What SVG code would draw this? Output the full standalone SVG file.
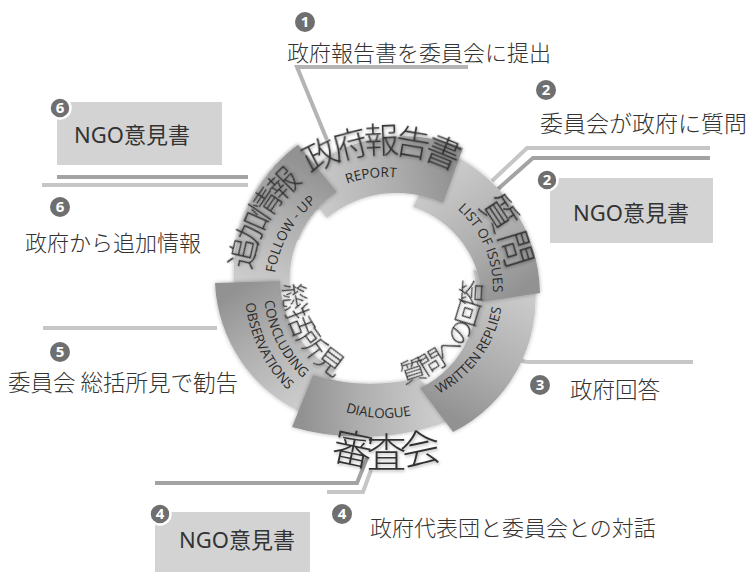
<svg xmlns="http://www.w3.org/2000/svg" xmlns:xlink="http://www.w3.org/1999/xlink" width="747" height="572" viewBox="0 0 747 572">
<style>
.jp{font-family:'Noto Sans CJK JP',sans-serif;fill:#333;font-weight:300}
.ngo{font-family:'Noto Sans','Noto Sans CJK JP',sans-serif;fill:#333;font-size:22px;text-anchor:middle}
.en{font-family:'Open Sans',sans-serif;font-size:13.5px;fill:#2a2a2a}
.big{font-family:'Noto Sans CJK JP',sans-serif;fill:#333;font-weight:300;filter:url(#sh)}
.num circle{fill:#6f6f6f}
.num .o{stroke:#fff;stroke-width:2.5}
.num text{font-family:'Open Sans',sans-serif;font-weight:bold;font-size:15px;fill:#fff;text-anchor:middle}
.box{fill:#d3d3d3}
.ln{fill:none;stroke-width:4}
.lt{stroke:#c6c6c6}
.dk{stroke:#a3a3a3}
.seg{filter:url(#ss)}
</style>
<defs>
<filter id="sh" x="-20%" y="-20%" width="140%" height="140%"><feDropShadow dx="1" dy="1.5" stdDeviation="1.5" flood-color="#000" flood-opacity="0.3"/></filter>
<filter id="ss" x="-20%" y="-20%" width="140%" height="140%"><feDropShadow dx="0" dy="0" stdDeviation="2" flood-color="#000" flood-opacity="0.3"/></filter>
<linearGradient id="gFU" gradientUnits="userSpaceOnUse" x1="262" y1="291" x2="317" y2="168"><stop offset="0" stop-color="#cdcdcd"/><stop offset="0.6" stop-color="#adadad"/><stop offset="1" stop-color="#929292"/></linearGradient>
<linearGradient id="gCO" gradientUnits="userSpaceOnUse" x1="321" y1="392" x2="247" y2="282"><stop offset="0" stop-color="#cdcdcd"/><stop offset="0.6" stop-color="#adadad"/><stop offset="1" stop-color="#929292"/></linearGradient>
<linearGradient id="gDI" gradientUnits="userSpaceOnUse" x1="438" y1="397" x2="302" y2="401"><stop offset="0" stop-color="#cdcdcd"/><stop offset="0.6" stop-color="#adadad"/><stop offset="1" stop-color="#929292"/></linearGradient>
<linearGradient id="gWR" gradientUnits="userSpaceOnUse" x1="504" y1="277" x2="436" y2="410"><stop offset="0" stop-color="#cdcdcd"/><stop offset="0.6" stop-color="#adadad"/><stop offset="1" stop-color="#929292"/></linearGradient>
<linearGradient id="gLI" gradientUnits="userSpaceOnUse" x1="427" y1="178" x2="511" y2="297"><stop offset="0" stop-color="#cdcdcd"/><stop offset="0.6" stop-color="#adadad"/><stop offset="1" stop-color="#929292"/></linearGradient>
<linearGradient id="gRE" gradientUnits="userSpaceOnUse" x1="311" y1="199" x2="453" y2="175"><stop offset="0" stop-color="#cdcdcd"/><stop offset="0.6" stop-color="#adadad"/><stop offset="1" stop-color="#929292"/></linearGradient>
<clipPath id="clipTop"><rect x="200" y="100" width="145" height="140"/></clipPath>
<path id="pFU" d="M235,294 A160,160 0 0 1 298,145 L337,192 A105,105 0 0 0 290,289 Z"/>
<path id="cw112" d="M273.43,279.24 A112,112 0 0 1 496.57,279.24"/>
<path id="cw108" d="M277.41,279.59 A108,108 0 0 1 492.59,279.59"/>
<path id="cw111" d="M274.42,279.33 A111,111 0 0 1 495.58,279.33"/>
<path id="cw136" d="M249.52,277.15 A136,136 0 0 1 520.48,277.15"/>
<path id="cw124" d="M261.47,278.19 A124,124 0 0 1 508.53,278.19"/>
<path id="cw135" d="M250.51,277.23 A135,135 0 0 1 519.49,277.23"/>
<path id="cc118" d="M267.45,299.28 A118,118 0 0 0 502.55,299.28"/>
<path id="cc129" d="M256.49,300.24 A129,129 0 0 0 513.51,300.24"/>
<path id="cc121" d="M264.46,299.55 A121,121 0 0 0 505.54,299.55"/>
<path id="cc140" d="M245.53,301.20 A140,140 0 0 0 524.47,301.20"/>
<path id="cc96" d="M289.37,297.37 A96,96 0 0 0 480.63,297.37"/>
<path id="cc101" d="M284.38,297.80 A101,101 0 0 0 485.62,297.80"/>
<path id="cc178" d="M207.68,304.51 A178,178 0 0 0 562.32,304.51"/>
</defs>
<rect width="747" height="572" fill="#fff"/>

<g id="connectors">
<polyline class="ln" stroke="#b4b4b4" points="327,140 297,67 468,67"/>
<polyline class="ln lt" points="492,181 527,148 710,148"/>
<polyline class="ln dk" points="498,189 533,158 710,158"/>
<path class="ln lt" d="M518,357 Q521,362 528,362 L693,362"/>
<polyline class="ln dk" points="155,483 357,483 367,458"/>
<polyline class="ln lt" points="327,492 363,492 371,470"/>
<line class="ln lt" x1="43" y1="328" x2="217" y2="328"/>
<line class="ln dk" x1="57" y1="177" x2="248" y2="177"/>
<line class="ln lt" x1="42" y1="185" x2="248" y2="185"/>
</g>

<g id="ring">
<g id="seg-followup" class="seg"><use href="#pFU" fill="url(#gFU)"/></g>
<g id="seg-concluding" class="seg"><path d="M307,415 A150,150 0 0 1 215,283 L280,281 A105,105 0 0 0 335,370 Z" fill="url(#gCO)"/></g>
<g id="seg-dialogue" class="seg"><path d="M459,417 A250,250 0 0 1 292,427 L313,375 A200,200 0 0 0 418,378 Z" fill="url(#gDI)"/></g>
<g id="seg-written" class="seg"><path d="M535,284 A150,150 0 0 1 453,432 L420,388 A100,100 0 0 0 473,270 Z" fill="url(#gWR)"/></g>
<g id="seg-list" class="seg"><path d="M442,150 A157,157 0 0 1 540,293 L482,302 A100,100 0 0 0 413,207 Z" fill="url(#gLI)"/></g>
<g id="seg-report" class="seg"><path d="M296,180 A155,155 0 0 1 463,148 L443,203 A110,110 0 0 0 327,218 Z" fill="url(#gRE)"/></g>
<g class="seg" clip-path="url(#clipTop)"><use href="#pFU" fill="url(#gFU)"/></g>
</g>

<g id="ring-labels">
<text class="en" transform="rotate(-7 385 289)"><textPath href="#cw112" startOffset="50%" text-anchor="middle">REPORT</textPath></text>
<text class="en" transform="rotate(67 385 289)"><textPath href="#cw108" startOffset="50%" text-anchor="middle">LIST OF ISSUES</textPath></text>
<text class="en" transform="rotate(-54 385 289)"><textPath href="#cc118" startOffset="50%" text-anchor="middle">WRITTEN REPLIES</textPath></text>
<text class="en" transform="rotate(3 385 289)"><textPath href="#cc129" startOffset="50%" text-anchor="middle">DIALOGUE</textPath></text>
<text class="en" transform="rotate(63.5 385 289)"><textPath href="#cc121" startOffset="50%" text-anchor="middle">CONCLUDING</textPath></text>
<text class="en" transform="rotate(64 385 289)"><textPath href="#cc140" startOffset="50%" text-anchor="middle">OBSERVATIONS</textPath></text>
<text class="en" transform="rotate(-60 385 289)"><textPath href="#cw111" startOffset="50%" text-anchor="middle">FOLLOW - UP</textPath></text>

<text class="big" font-size="35" letter-spacing="-6" transform="rotate(-2.5 385 289)"><textPath href="#cw136" startOffset="50%" text-anchor="middle">政府報告書</textPath></text>
<text class="big" font-size="36" transform="rotate(64.7 385 289)"><textPath href="#cw124" startOffset="50%" text-anchor="middle">質問</textPath></text>
<text class="big" font-size="26" letter-spacing="-3" transform="rotate(-52.3 385 289)"><textPath href="#cc96" startOffset="50%" text-anchor="middle">質問への回答</textPath></text>
<text class="big" font-size="40" letter-spacing="-3"><textPath href="#cc178" startOffset="50%" text-anchor="middle">審査会</textPath></text>
<text class="big" font-size="28" transform="rotate(61 385 289)"><textPath href="#cc101" startOffset="50%" text-anchor="middle">総括所見</textPath></text>
<text class="big" font-size="31" letter-spacing="-6" transform="rotate(-61 385 289)"><textPath href="#cw135" startOffset="50%" text-anchor="middle">追加情報</textPath></text>
</g>

<g id="step1">
<text class="jp" x="287" y="61" font-size="22">政府報告書を委員会に提出</text>
<g class="num"><circle cx="305" cy="22" r="10"/><text x="305" y="27">1</text></g>
</g>
<g id="step2">
<text class="jp" x="540" y="132" font-size="23">委員会が政府に質問</text>
<g class="num"><circle cx="546" cy="90" r="10"/><text x="546" y="95">2</text></g>
</g>
<g id="step2-ngo">
<rect class="box" x="550" y="178" width="163" height="65"/>
<text class="ngo" x="631" y="221">NGO意見書</text>
<g class="num"><circle class="o" cx="547" cy="180" r="10.5"/><text x="547" y="185">2</text></g>
</g>
<g id="step3">
<text class="jp" x="570" y="398" font-size="22.5">政府回答</text>
<g class="num"><circle cx="540" cy="385" r="10"/><text x="540" y="390">3</text></g>
</g>
<g id="step4">
<text class="jp" x="370" y="536" font-size="22">政府代表団と委員会との対話</text>
<g class="num"><circle cx="342" cy="514" r="10"/><text x="342" y="519">4</text></g>
</g>
<g id="step4-ngo">
<rect class="box" x="155" y="512" width="155" height="62"/>
<text class="ngo" x="237" y="548">NGO意見書</text>
<g class="num"><circle class="o" cx="160" cy="514" r="10.5"/><text x="160" y="519">4</text></g>
</g>
<g id="step5">
<text class="jp" x="8" y="391" font-size="22.5">委員会 総括所見で勧告</text>
<g class="num"><circle cx="60" cy="352" r="10"/><text x="60" y="357">5</text></g>
</g>
<g id="step6">
<text class="jp" x="25" y="251" font-size="22">政府から追加情報</text>
<g class="num"><circle cx="60" cy="207" r="10"/><text x="60" y="212">6</text></g>
</g>
<g id="step6-ngo">
<rect class="box" x="57" y="102" width="165" height="63"/>
<text class="ngo" x="132" y="143">NGO意見書</text>
<g class="num"><circle class="o" cx="60" cy="108" r="10.5"/><text x="60" y="113">6</text></g>
</g>
</svg>
